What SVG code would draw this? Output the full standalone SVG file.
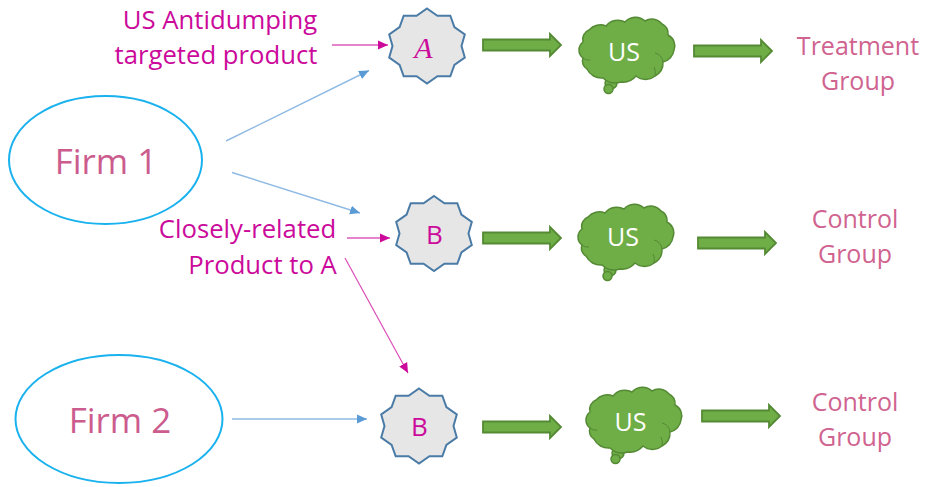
<svg xmlns="http://www.w3.org/2000/svg" width="925" height="487" viewBox="0 0 925 487">
<style>
text{font-family:"Open Sans","Noto Sans","Liberation Sans",sans-serif;text-anchor:middle}
.firm{fill:#fff;stroke:#1ab2ee;stroke-width:2}
.firmt{fill:#cc5c8e;font-size:35px}
.grp{fill:#d0638f;font-size:25px}
.mag{fill:#cb0a9b;font-size:25.700px}
.star{fill:#e6e6e6;stroke:#4a7ba6;stroke-width:2}
.cloud{fill:#6fad47;stroke:#548a34;stroke-width:1.500}
.crease{fill:none;stroke:#548a34;stroke-width:1}
.ba{fill:#6fad47;stroke:#548a34;stroke-width:1.800}
.us{fill:#fff;font-size:25px}
.bl{fill:none;stroke:#8fbae3;stroke-width:1.400;marker-end:url(#mb)}
.mg{fill:none;stroke:#cb0a9b;stroke-width:1.200;marker-end:url(#mm)}
</style>
<defs>
<marker id="mb" markerUnits="userSpaceOnUse" markerWidth="12" markerHeight="10" refX="10" refY="5" orient="auto"><path d="M0 0.500L10 5L0 9.500Z" fill="#5b9bd5"/></marker>
<marker id="mm" markerUnits="userSpaceOnUse" markerWidth="12" markerHeight="10" refX="10" refY="5" orient="auto"><path d="M0 0.500L10 5L0 9.500Z" fill="#cb0a9b"/></marker>
<path id="st" d="M0-37.500L10.400-30.200L23.300-30.300L27.400-19L37.800-11.600L34.500 0L37.800 11.600L27.400 19L23.300 30.300L10.400 30.200L0 37.500L-10.400 30.200L-23.300 30.300L-27.400 19L-37.800 11.600L-34.500 0L-37.800-11.600L-27.400-19L-23.300-30.300L-10.400-30.200Z"/>
<g id="cl">
<circle cx="32" cy="65" r="6"/><circle cx="29.500" cy="71" r="4.500"/>
<path d="M4 24A10 10 0 0 1 10 12A15 15 0 0 1 27 8A15 15 0 0 1 46 4A14 14 0 0 1 66 3A13 13 0 0 1 83 6A11 11 0 0 1 89 17A12 12 0 0 1 95 32A14 14 0 0 1 84 44A15 15 0 0 1 76 58A15 15 0 0 1 57 58A17 17 0 0 1 42 64A18 18 0 0 1 24 60A16 16 0 0 1 8 51A9 9 0 0 1 4 40A10 10 0 0 1 4 24Z"/>
<path class="crease" d="M84 44A10 10 0 0 0 76 35M76 58A12 12 0 0 0 75 49M4 40A8 8 0 0 0 11 42"/>
</g>
<path id="ar" d="M1-5.500H68V-11L79 0L68 11V5.500H1Z"/>
</defs>
<g id="connectors">
<path class="bl" d="M226 141L369 70.500"/>
<path class="bl" d="M232 172.500L360 213"/>
<path class="bl" d="M232 419L367 419"/>
<path class="mg" d="M332 45L388 45"/>
<path class="mg" d="M347 238L390 238"/>
<path class="mg" style="stroke:#dc4cb6" d="M345 258L408 373"/>
</g>
<g id="firm1"><ellipse class="firm" cx="105.500" cy="160" rx="96.500" ry="64"/><text class="firmt" x="106" y="174">Firm 1</text></g>
<g id="firm2"><ellipse class="firm" cx="119" cy="419" rx="103.500" ry="64"/><text class="firmt" x="120" y="433">Firm 2</text></g>
<g id="label-targeted"><text class="mag" x="220" y="29">US Antidumping</text><text class="mag" x="216" y="64">targeted product</text></g>
<g id="label-related"><text class="mag" x="247.500" y="238">Closely-related</text><text class="mag" x="262.500" y="273.500">Product to A</text></g>
<g id="product-a"><use href="#st" class="star" x="427" y="46"/><text x="423.500" y="58" style="font-family:'Liberation Serif',serif;font-style:italic;font-size:30px;fill:#cb0a9b">A</text></g>
<g id="product-b1"><use href="#st" class="star" x="434" y="233.500"/><text x="434.500" y="244" style="fill:#cb0a9b;font-size:26px">B</text></g>
<g id="product-b2"><use href="#st" class="star" x="419" y="426"/><text x="419.500" y="436" style="fill:#cb0a9b;font-size:26px">B</text></g>
<g id="arrows">
<use href="#ar" class="ba" x="482" y="45"/><use href="#ar" class="ba" x="693" y="51"/>
<use href="#ar" class="ba" x="482" y="238"/><use href="#ar" class="ba" x="697" y="243"/>
<use href="#ar" class="ba" x="482" y="427"/><use href="#ar" class="ba" x="701" y="416"/>
</g>
<g id="us1"><use href="#cl" class="cloud" x="579" y="18"/><text class="us" x="624" y="60.500">US</text></g>
<g id="us2"><use href="#cl" class="cloud" x="578" y="205"/><text class="us" x="623" y="246">US</text></g>
<g id="us3"><use href="#cl" class="cloud" x="586" y="388"/><text class="us" x="630.500" y="430.500">US</text></g>
<g id="group1"><text class="grp" x="858" y="55">Treatment</text><text class="grp" x="858" y="89.500">Group</text></g>
<g id="group2"><text class="grp" x="855" y="228">Control</text><text class="grp" x="855" y="263">Group</text></g>
<g id="group3"><text class="grp" x="855" y="411">Control</text><text class="grp" x="855" y="446">Group</text></g>
</svg>
